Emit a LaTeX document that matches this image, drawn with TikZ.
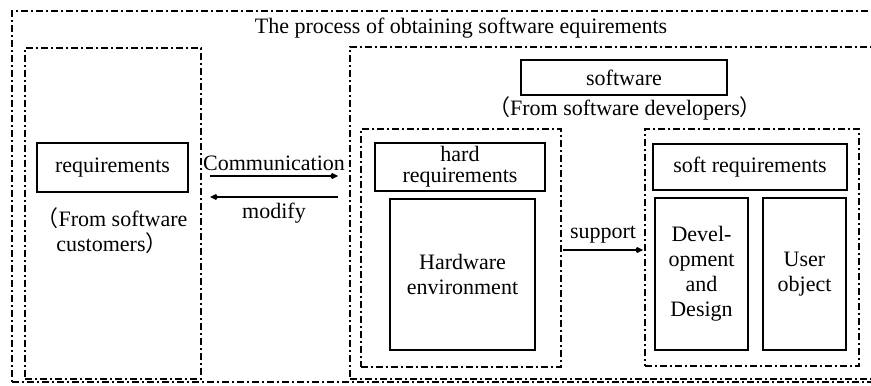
\documentclass[tikz,border=0pt]{standalone}
\usepackage{fontspec}
\setmainfont{Liberation Serif}
\newfontfamily\cjk{Noto Sans CJK SC}
\usepackage{tikz}
\usetikzlibrary{arrows.meta}
\def\lp{{\cjk （}}
\def\rp{{\cjk ）}}

\begin{document}
\begin{tikzpicture}[x=0.5pt,y=-0.5pt,
  every node/.style={font=\fontsize{11}{12.5}\selectfont},
  b/.style={rectangle,draw,line width=1pt,inner sep=0pt,outer sep=0pt,align=center},
  g/.style={rectangle,draw,line width=0.8pt,inner sep=0pt,outer sep=0pt,
    dash pattern=on 3.5pt off 1.5pt on 1pt off 1.5pt},
  t/.style={align=center,inner sep=1pt},
  a/.style={-{Kite[length=4pt,width=3pt]},line width=0.9pt}]
  \useasboundingbox (0,0) rectangle (871,385);
  \clip (0,0) rectangle (871,385);
  % frames
  \node[g,minimum width=440pt,minimum height=185.5pt] (all) at (452,196.5) {};
  \node[g,minimum width=88pt,minimum height=165.5pt] (cust) at (113,213.5) {};
  \node[g,minimum width=275pt,minimum height=166pt] (dev) at (625,213) {};
  \node[g,minimum width=100pt,minimum height=119pt] (hg) at (461,248) {};
  \node[g,minimum width=107pt,minimum height=118.5pt] (sg) at (752,247.5) {};
  \node[t] (ttl) at (461,28) {The process of obtaining software equirements};

  % customer side
  \node[b,minimum width=75.5pt,minimum height=24.5pt] (req) at (112.5,167.5) {requirements};
  \node[t] (cn) at (112,231) {\lp From software\\customers\rp};

  % developer side
  \node[b,minimum width=103pt,minimum height=17.5pt] (sw) at (624,77.5) {software};
  \node[t] (dn) at (625,108) {\lp From software developers\rp};
  \node[b,minimum width=85pt,minimum height=24pt,font=\fontsize{11}{11}\selectfont] (hr) at (460,166.5) {hard\\[-0.5pt]requirements};
  \node[b,minimum width=72.5pt,minimum height=75.5pt] (hw) at (462.5,274.5) {Hardware\\environment};
  \node[b,minimum width=97pt,minimum height=23pt] (sr) at (750,167) {soft requirements};
  \node[b,minimum width=46.5pt,minimum height=76pt] (dd) at (701.5,274) {Devel-\\opment\\and\\Design};
  \node[b,minimum width=41.5pt,minimum height=76pt] (uo) at (804.5,274) {User\\object};

  \draw[a] ([shift={(9,-37.5)}]cust.east) -- node[above,t,yshift=1pt] {Communication} ([shift={(-12,-37)}]dev.west);
  \draw[a] ([shift={(-12,-16)}]dev.west) -- node[below,t,yshift=-1.5pt] {modify} ([shift={(9,-16.5)}]cust.east);
  \draw[a] ([shift={(2,2)}]hg.east) -- node[above,t,yshift=2pt] {support} ([shift={(-2,2.5)}]sg.west);
\end{tikzpicture}
\end{document}
